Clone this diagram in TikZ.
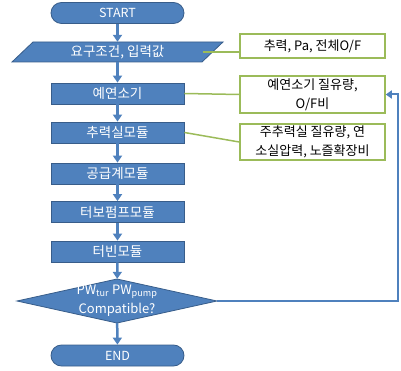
\documentclass[tikz,border=0pt]{standalone}
\usepackage{fontspec}
\setmainfont{Noto Sans CJK KR}
\usetikzlibrary{arrows.meta}
\definecolor{obl}{HTML}{4F81BD}
\definecolor{obd}{HTML}{385D8A}
\definecolor{ogr}{HTML}{9BBB59}
\begin{document}
\begin{tikzpicture}[x=1pt,y=-1pt, font=\fontsize{13.5}{15}\selectfont,
 proc/.style={draw=obd, fill=obl, text=white, minimum width=133, minimum height=21, inner sep=0, line width=0.8},
 term/.style={proc, rounded corners=10.5, font=\fontsize{12.5}{15}\selectfont},
 shapefill/.style={draw=obd, fill=obl, line width=0.8},
 note/.style={draw=ogr, fill=white, line width=1.5, minimum width=145, inner sep=0, align=center, font=\fontsize{13}{19}\selectfont},
 flow/.style={draw=obl, line width=2.5, -{Triangle[length=7,width=9]}},
 back/.style={draw=obl, line width=2, -{Triangle[length=6,width=8]}},
 link/.style={draw=ogr, line width=1.5},
]
\useasboundingbox (0,0) rectangle (401,371);
\node[term] (start) at (117.5,13) {START};
\filldraw[shapefill] (33,42) -- (223,42) -- (202,62) -- (12,62) -- cycle;
\node[text=white, minimum width=170, minimum height=20, inner sep=0] (input) at (117.5,52) {요구조건, 입력값};
\node[proc] (pre) at (117.5,93.5) {예연소기};
\node[proc] (thr) at (117.5,132.5) {추력실모듈};
\node[proc] (feed) at (117.5,173.5) {공급계모듈};
\node[proc] (tp) at (117.5,212) {터보펌프모듈};
\node[proc] (tur) at (117.5,251.5) {터빈모듈};
\filldraw[shapefill] (17,301) -- (117,279) -- (217,301) -- (117,323) -- cycle;
\node[text=white, align=center, inner sep=0, minimum width=200, minimum height=44, font=\fontsize{13}{19}\selectfont] (dec) at (117,301) {PW\textsubscript{tur} PW\textsubscript{pump}\\Compatible?};
\node[term] (end) at (117.5,355.5) {END};

\node[note, minimum height=24] (n1) at (312.5,46) {추력, Pa, 전체O/F};
\node[note, minimum height=37] (n2) at (312.5,94.5) {예연소기 질유량,\\O/F비};
\node[note, minimum height=36] (n3) at (312.5,142) {주추력실 질유량, 연\\소실압력, 노즐확장비};

\draw[flow] (start) -- (input);
\draw[flow] (input) -- (pre);
\draw[flow] (pre) -- (thr);
\draw[flow] (thr) -- (feed);
\draw[flow] (feed) -- (tp);
\draw[flow] (tp) -- (tur);
\draw[flow] (tur) -- (dec);
\draw[flow] (dec) -- (end);

\draw[link] (input.east) -- (n1.west |- input.east);
\draw[link] (pre.east) -- (n2.west);
\draw[link] (thr.east) -- (n3.west);

\coordinate (fb) at (398,301);
\draw[back] (dec.east) -- (fb) |- (n2.east);
\end{tikzpicture}
\end{document}
